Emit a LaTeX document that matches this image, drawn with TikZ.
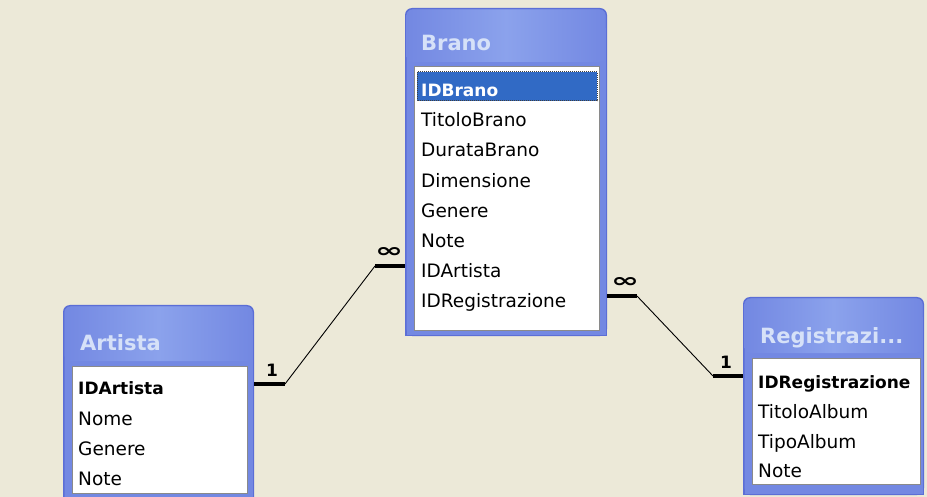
\documentclass[tikz,border=0pt]{standalone}
\usepackage{fontspec}
\usepackage{graphicx}
\setmainfont{DejaVu Sans}
\definecolor{bg}{HTML}{ECE9D8}
\definecolor{winouter}{HTML}{5B6ED6}
\definecolor{winedge}{HTML}{7388E2}
\definecolor{winmid}{HTML}{8BA2EC}
\definecolor{titletxt}{HTML}{D6E1F8}
\definecolor{sel}{HTML}{316AC5}
\definecolor{listedge}{HTML}{8A8A8A}
\newcommand\tablewin[8]{%
  \fill[winouter,rounded corners=7pt] (#1,#2) rectangle (#3,#4);
  \fill[winouter] (#1,#2+20) rectangle (#3,#4);
  \fill[winedge,rounded corners=6pt] (#1+1.5,#2+1.5) rectangle (#3-1.5,#4-1.5);
  \fill[winedge] (#1+1.5,#2+20) rectangle (#3-1.5,#4-1.5);
  \shade[left color=winedge,right color=winedge,middle color=winmid,rounded corners=6pt]
     (#1+1.5,#2+1.5) rectangle (#3-1.5,#5-5);
  \filldraw[fill=white,draw=listedge,line width=1pt] (#7,#5) rectangle (#8,#6);
}
\begin{document}
\begin{tikzpicture}[x=1pt,y=-1pt,
  wintitle/.style={text=titletxt,font=\bfseries\fontsize{21}{22}\selectfont,anchor=base west,inner sep=0pt},
  rowtext/.style={font=\fontsize{18.5}{20}\selectfont,anchor=base west,inner sep=0pt},
  keyrow/.style={font=\bfseries\fontsize{17}{18}\selectfont,anchor=base west,inner sep=0pt},
  relbar/.style={line width=4.5pt},
  relline/.style={line width=0.9pt},
  card/.style={font=\bfseries\fontsize{17}{17}\selectfont,inner sep=0pt},
  selbox/.style={fill=sel,draw=black!75,densely dotted,line width=1pt}]
\useasboundingbox (0,0) rectangle (927,497);
\clip (0,0) rectangle (927,497);
\fill[bg] (0,0) rectangle (927,497);

% windows
\tablewin{405}{8}{607}{336}{67}{330}{414}{599}
\tablewin{63}{305}{254}{520}{366}{493}{72}{247}
\tablewin{743}{297}{924}{495}{358}{484}{752}{920}

% Brano
\node[wintitle] (tBrano) at (421,51) {Brano};
\filldraw[selbox] (417,72) rectangle (597,101);
\node[keyrow,text=white] (bIDBrano) at (421,97) {IDBrano};
\node[rowtext] (bTitolo) at (421,127) {TitoloBrano};
\node[rowtext] (bDurata) at (421,157) {DurataBrano};
\node[rowtext] (bDim) at (421,188) {Dimensione};
\node[rowtext] (bGenere) at (421,218) {Genere};
\node[rowtext] (bNote) at (421,248) {Note};
\node[rowtext] (bIDArtista) at (421,278) {IDArtista};
\node[rowtext] (bIDReg) at (421,308) {IDRegistrazione};

% Artista
\node[wintitle] (tArtista) at (80,350) {Artista};
\node[keyrow] (aID) at (78,394) {IDArtista};
\node[rowtext] (aNome) at (78,425) {Nome};
\node[rowtext] (aGenere) at (78,455) {Genere};
\node[rowtext] (aNote) at (78,485) {Note};

% Registrazione
\node[wintitle] (tReg) at (760,343) {Registrazi...};
\node[keyrow] (rID) at (758,388) {IDRegistrazione};
\node[rowtext] (rTitolo) at (758,418) {TitoloAlbum};
\node[rowtext] (rTipo) at (758,448) {TipoAlbum};
\node[rowtext] (rNote) at (758,477) {Note};

% relationship Artista - Brano
\coordinate (aEnd) at (254,384);
\coordinate (aKnee) at (285,384);
\coordinate (bKnee) at (375,266);
\coordinate (bEnd) at (405,266);
\draw[relbar] (aEnd) -- (aKnee);
\draw[relline] (aKnee) -- (bKnee);
\draw[relbar] (bKnee) -- (bEnd);
\node[card] (one1) at (272,370) {1};
\node[card] (inf1) at (389,253) {\resizebox{28pt}{10pt}{\bfseries ∞}};

% relationship Brano - Registrazione
\coordinate (bEnd2) at (607,296);
\coordinate (bKnee2) at (637,296);
\coordinate (rKnee) at (713,376);
\coordinate (rEnd) at (743,376);
\draw[relbar] (bEnd2) -- (bKnee2);
\draw[relline] (bKnee2) -- (rKnee);
\draw[relbar] (rKnee) -- (rEnd);
\node[card] (inf2) at (625,283) {\resizebox{28pt}{10pt}{\bfseries ∞}};
\node[card] (one2) at (726,362) {1};
\end{tikzpicture}
\end{document}
